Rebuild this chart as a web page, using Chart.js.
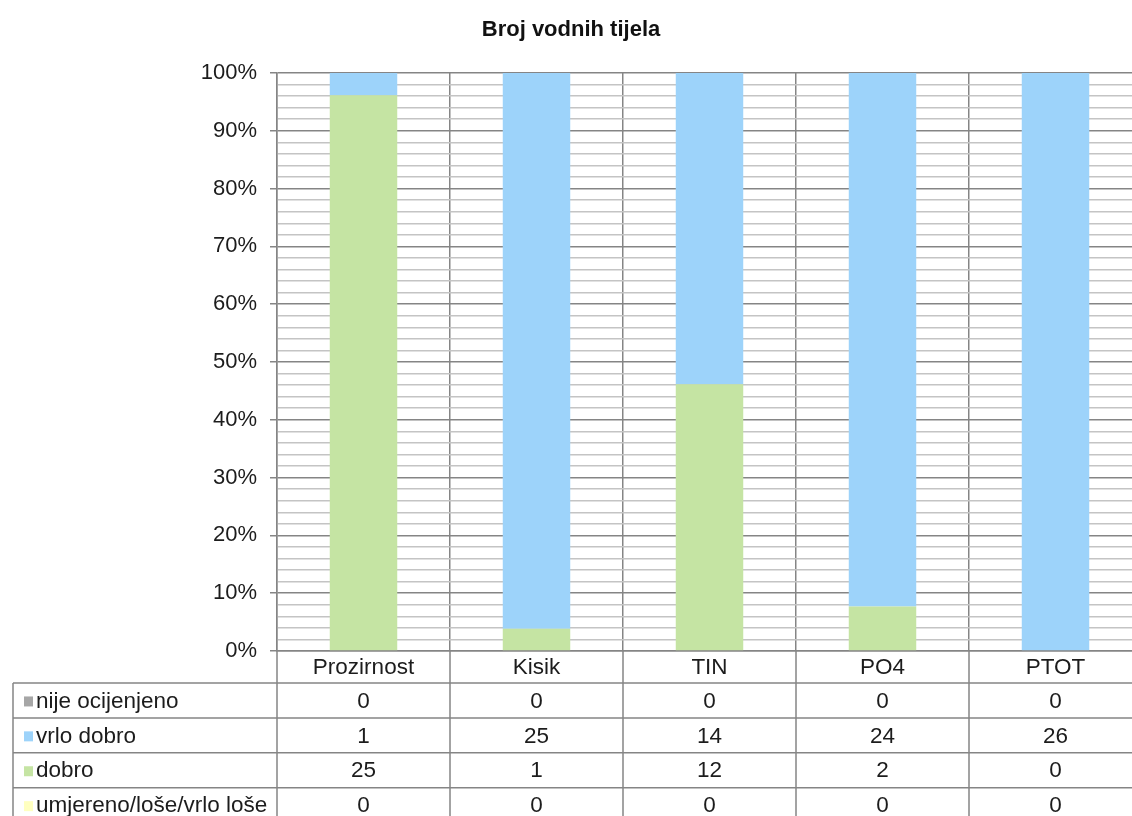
<!DOCTYPE html>
<html>
<head>
<meta charset="utf-8">
<script src="https://cdn.jsdelivr.net/npm/chart.js@4"></script>
<style>
  html, body { margin: 0; padding: 0; background: #fff; overflow: hidden; }
</style>
</head>
<body>
<canvas id="chart" width="1142" height="816"></canvas>
<script>
// data
const categories = ['Prozirnost', 'Kisik', 'TIN', 'PO4', 'PTOT'];
const nijeOcijenjeno = [0, 0, 0, 0, 0];
const vrloDobro = [1, 25, 14, 24, 26];
const dobro = [25, 1, 12, 2, 0];
const umjereno = [0, 0, 0, 0, 0];

// row labels and colours, top row of the table first
const rows = [
    { label: 'nije ocijenjeno', values: nijeOcijenjeno, color: '#A6A6A6' },
    { label: 'vrlo dobro', values: vrloDobro, color: '#9DD3FA' },
    { label: 'dobro', values: dobro, color: '#C5E4A3' },
    { label: 'umjereno/loše/vrlo loše', values: umjereno, color: '#FFFFC0' }
];

const totals = categories.map((c, i) => rows.reduce((s, r) => s + r.values[i], 0));
const pct = arr => arr.map((v, i) => totals[i] ? v / totals[i] * 100 : 0);

const FONT = 'Liberation Sans, Arial, sans-serif';
const LINE = '#858585';
const TEXT = '#1c1c1c';

// draws the data table under the plot
const tablePlugin = {
    id: 'dataTable',
    afterDraw(chart) {
        const { ctx, chartArea } = chart;
        const x = chart.scales.x;
        const half = (x.getPixelForValue(1) - x.getPixelForValue(0)) / 2;
        const top = chartArea.bottom;
        const headBottom = top + 32;
        const rowH = 34.9;
        const tableLeft = 13;
        const right = chart.width;

        ctx.save();
        ctx.strokeStyle = LINE;
        ctx.lineWidth = 1.5;

        // vertical column lines
        for (let i = 0; i <= categories.length; i++) {
            const px = x.getPixelForValue(0) - half + i * half * 2;
            ctx.beginPath();
            ctx.moveTo(px, top);
            ctx.lineTo(px, chart.height);
            ctx.stroke();
        }
        ctx.beginPath();
        ctx.moveTo(tableLeft, headBottom);
        ctx.lineTo(tableLeft, chart.height);
        ctx.stroke();

        // horizontal row lines
        for (let r = 0; r <= rows.length; r++) {
            const py = headBottom + r * rowH;
            ctx.beginPath();
            ctx.moveTo(tableLeft, py);
            ctx.lineTo(right, py);
            ctx.stroke();
        }

        ctx.fillStyle = TEXT;
        ctx.font = '22.5px ' + FONT;
        ctx.textBaseline = 'middle';

        // category header
        ctx.textAlign = 'center';
        categories.forEach((c, i) => {
            ctx.fillText(c, x.getPixelForValue(i), (top + headBottom) / 2 + 1);
        });

        rows.forEach((row, r) => {
            const cy = headBottom + r * rowH + rowH / 2 + 1;
            ctx.fillStyle = row.color;
            ctx.fillRect(24, cy - 5, 9, 10);
            ctx.fillStyle = TEXT;
            ctx.textAlign = 'left';
            ctx.fillText(row.label, 36, cy);
            ctx.textAlign = 'center';
            row.values.forEach((v, i) => {
                ctx.fillText(String(v), x.getPixelForValue(i), cy);
            });
        });
        ctx.restore();
    }
};

// stacking goes bottom up, so reverse the table rows
const datasets = rows.slice().reverse().map(r => ({
    label: r.label,
    data: pct(r.values),
    backgroundColor: r.color,
    borderWidth: 0,
    barPercentage: 0.39,
    categoryPercentage: 1
}));

new Chart(document.getElementById('chart'), {
    type: 'bar',
    data: { labels: categories, datasets },
    options: {
        responsive: false,
        animation: false,
        layout: { padding: { left: 0, right: 0, top: 0, bottom: 0 } },
        plugins: {
            legend: { display: false },
            tooltip: { enabled: false },
            title: {
                display: true,
                text: 'Broj vodnih tijela',
                color: '#111',
                font: { family: FONT, size: 22, weight: 'bold' },
                padding: { top: 17, bottom: 29.6 }
            }
        },
        scales: {
            x: {
                stacked: true,
                offset: true,
                afterFit: s => { s.height = 165; },
                ticks: { display: false },
                grid: { color: LINE, lineWidth: 1.5, drawTicks: false, offset: true },
                border: { color: LINE, width: 1.5 }
            },
            y: {
                stacked: true,
                min: 0,
                max: 100,
                afterFit: s => { s.width = 277; },
                ticks: {
                    stepSize: 2,
                    autoSkip: false,
                    padding: 13,
                    color: TEXT,
                    font: { family: FONT, size: 22 },
                    callback: v => v % 10 === 0 ? v + '%' : ''
                },
                grid: {
                    color: c => c.tick.value % 10 === 0 ? LINE : '#c4c4c4',
                    lineWidth: 1.5,
                    tickLength: 7,
                    tickColor: c => c.tick.value % 10 === 0 ? LINE : 'rgba(0,0,0,0)'
                },
                border: { color: LINE, width: 1.5 }
            }
        }
    },
    plugins: [tablePlugin]
});
</script>
</body>
</html>
